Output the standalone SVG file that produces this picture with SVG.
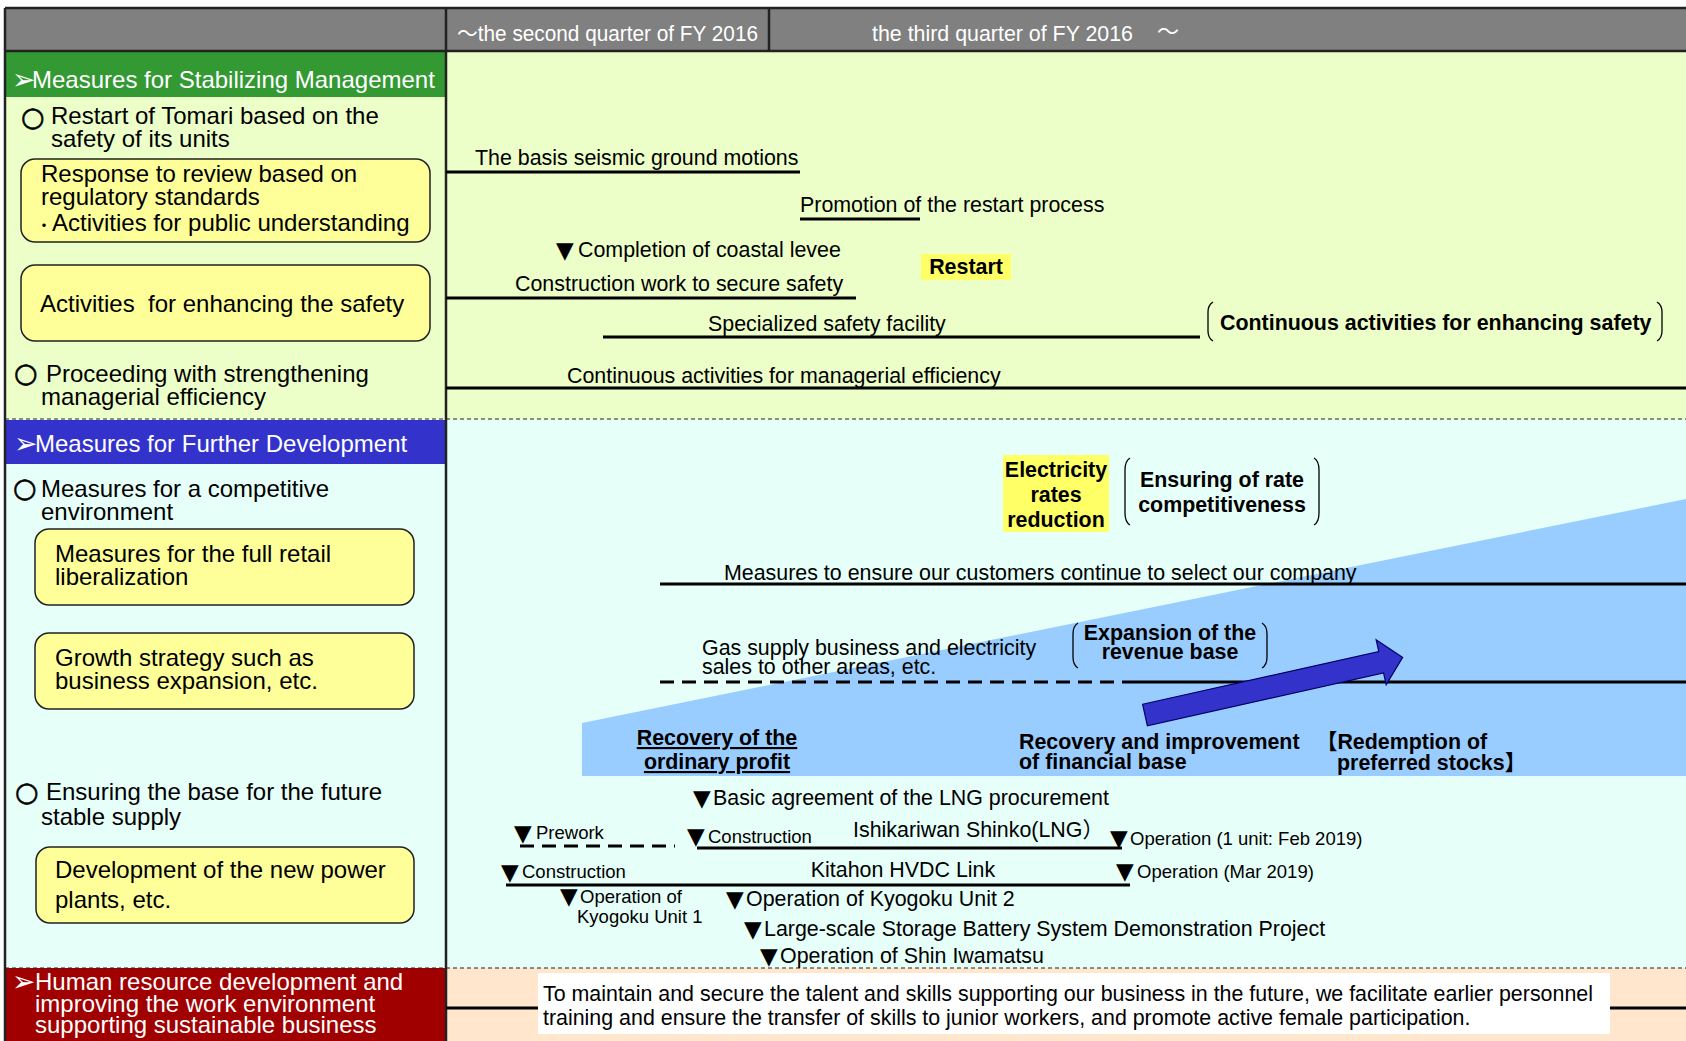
<svg xmlns="http://www.w3.org/2000/svg" width="1686" height="1041" viewBox="0 0 1686 1041">
<style>
text{font-family:'Liberation Sans','Noto Sans CJK JP',sans-serif;fill:#000}
.l{font-size:24px}
.r{font-size:21.4px}
.s{font-size:18.5px}
.b{font-weight:bold}
.w{fill:#fff}
.hd{font-size:22px;fill:#fff}
.ar{font-family:'DejaVu Sans',sans-serif;font-size:28px}
.ci{font-family:'DejaVu Sans',sans-serif;font-size:27px;stroke:#000;stroke-width:0.6}
.tri{font-family:'DejaVu Sans',sans-serif;font-size:23px}
.u{text-decoration:underline}
.ln{stroke:#000;stroke-width:3;fill:none}
.dl{stroke:#000;stroke-width:3;fill:none;stroke-dasharray:14 8}
.sep{stroke:#222;stroke-width:1.2;stroke-dasharray:4 3;fill:none}
.box{fill:#FFFF99;stroke:#222;stroke-width:1.5}
.br{fill:none;stroke:#000;stroke-width:1.3}
.hl{fill:#FFFF66}
.bd{stroke:#222;stroke-width:2.5;fill:none}
</style>
<g id="background">
<rect x="5" y="51" width="1681" height="368" fill="#ECFFC8"/>
<rect x="5" y="419" width="1681" height="549" fill="#E6FFF9"/>
<rect x="446" y="968" width="1240" height="73" fill="#FFE6CC"/>
<rect x="5" y="968" width="441" height="73" fill="#A00000"/>
<rect x="5" y="8" width="1681" height="43" fill="#808080"/>
<rect x="5" y="52" width="441" height="45" fill="#339933"/>
<rect x="5" y="420" width="441" height="44" fill="#3333CC"/>
<polygon points="582,723 1686,499 1686,776 582,776" fill="#99CCFF"/>
<line class="sep" x1="5" y1="419" x2="1686" y2="419"/>
<line class="sep" x1="5" y1="968" x2="1686" y2="968"/>
<line class="bd" x1="5" y1="8" x2="1686" y2="8"/>
<line class="bd" x1="5" y1="51" x2="1686" y2="51"/>
<line class="bd" x1="5" y1="8" x2="5" y2="1041"/>
<line class="bd" x1="446" y1="8" x2="446" y2="1041"/>
<line class="bd" x1="769" y1="8" x2="769" y2="51"/>
</g>
<g id="header">
<text class="hd" x="457" y="41" textLength="301" lengthAdjust="spacingAndGlyphs">～the second quarter of FY 2016</text>
<text class="hd" x="872" y="41" textLength="261" lengthAdjust="spacingAndGlyphs">the third quarter of FY 2016</text>
<text class="hd" x="1157" y="39" font-size="20">～</text>
</g>
<g id="connectors">
<line class="ln" x1="446" y1="172" x2="800" y2="172"/>
<line class="ln" x1="800" y1="219" x2="920" y2="219"/>
<line class="ln" x1="446" y1="298" x2="856" y2="298"/>
<line class="ln" x1="603" y1="337" x2="1200" y2="337"/>
<line class="ln" x1="446" y1="388" x2="1686" y2="388"/>
<line class="ln" x1="660" y1="584" x2="1686" y2="584"/>
<line class="dl" x1="660" y1="682" x2="1130" y2="682"/>
<line class="ln" x1="1130" y1="682" x2="1686" y2="682"/>
<line class="dl" x1="520" y1="846" x2="675" y2="846"/>
<line class="ln" x1="697" y1="848" x2="1122" y2="848"/>
<line class="ln" x1="506" y1="885" x2="1130" y2="885"/>
<line class="ln" x1="446" y1="1008" x2="1686" y2="1008"/>
</g>
<g id="sec-stabilizing">
<text class="l w"><tspan class="ar" x="12" y="89">➢</tspan><tspan x="32" y="88">Measures for Stabilizing Management</tspan></text>
</g>
<g id="item-tomari">
<text class="l"><tspan class="ci" x="21" y="126">○</tspan><tspan x="51" y="124">Restart of Tomari based on the</tspan><tspan x="51" y="147">safety of its units</tspan></text>
</g>
<g id="box-response">
<rect class="box" x="21" y="159" width="409" height="83" rx="14"/>
<text class="l"><tspan x="41" y="182">Response to review based on</tspan><tspan x="41" y="205">regulatory standards</tspan><tspan x="36" y="231" font-size="16">・</tspan><tspan x="52" y="231">Activities for public understanding</tspan></text>
</g>
<g id="box-safety">
<rect class="box" x="21" y="265" width="409" height="76" rx="14"/>
<text class="l" x="40" y="312" xml:space="preserve">Activities  for enhancing the safety</text>
</g>
<g id="item-efficiency">
<text class="l"><tspan class="ci" x="14" y="382">○</tspan><tspan x="46" y="382">Proceeding with strengthening</tspan><tspan x="41" y="405">managerial efficiency</tspan></text>
</g>
<g id="sec-development">
<text class="l w"><tspan class="ar" x="14" y="453">➢</tspan><tspan x="35" y="452">Measures for Further Development</tspan></text>
</g>
<g id="item-competitive">
<text class="l"><tspan class="ci" x="13" y="497">○</tspan><tspan x="41" y="497">Measures for a competitive</tspan><tspan x="41" y="520">environment</tspan></text>
</g>
<g id="box-retail">
<rect class="box" x="35" y="529" width="379" height="76" rx="14"/>
<text class="l"><tspan x="55" y="562">Measures for the full retail</tspan><tspan x="55" y="585">liberalization</tspan></text>
</g>
<g id="box-growth">
<rect class="box" x="35" y="633" width="379" height="76" rx="14"/>
<text class="l"><tspan x="55" y="666">Growth strategy such as</tspan><tspan x="55" y="689">business expansion, etc.</tspan></text>
</g>
<g id="item-supply">
<text class="l"><tspan class="ci" x="15" y="801">○</tspan><tspan x="46" y="800">Ensuring the base for the future</tspan><tspan x="41" y="825">stable supply</tspan></text>
</g>
<g id="box-plants">
<rect class="box" x="36" y="847" width="378" height="76" rx="14"/>
<text class="l"><tspan x="55" y="878">Development of the new power</tspan><tspan x="55" y="908">plants, etc.</tspan></text>
</g>
<g id="sec-human">
<text class="l w"><tspan class="ar" x="12" y="991">➢</tspan><tspan x="35" y="990">Human resource development and</tspan><tspan x="35" y="1012">improving the work environment</tspan><tspan x="35" y="1033">supporting sustainable business</tspan></text>
</g>
<g id="tl-seismic"><text class="r" x="475" y="165">The basis seismic ground motions</text></g>
<g id="tl-promotion"><text class="r" x="800" y="212">Promotion of the restart process</text></g>
<g id="tl-levee"><text class="r"><tspan class="tri" x="556" y="258">▼</tspan><tspan x="578" y="257">Completion of coastal levee</tspan></text></g>
<g id="tl-restart">
<rect class="hl" x="921" y="254" width="90" height="26"/>
<text class="r b" x="966" y="274" text-anchor="middle">Restart</text>
</g>
<g id="tl-construction"><text class="r" x="515" y="291">Construction work to secure safety</text></g>
<g id="tl-facility"><text class="r" x="708" y="331">Specialized safety facility</text></g>
<g id="tl-continuous-safety">
<path class="br" d="M1213,302 Q1208,305 1208,312 L1208,331 Q1208,338 1213,341"/>
<path class="br" d="M1657,302 Q1662,305 1662,312 L1662,331 Q1662,338 1657,341"/>
<text class="r b" x="1220" y="330">Continuous activities for enhancing safety</text>
</g>
<g id="tl-managerial"><text class="r" x="567" y="383">Continuous activities for managerial efficiency</text></g>
<g id="tl-rates">
<rect class="hl" x="1003" y="455" width="106" height="77"/>
<text class="r b" text-anchor="middle"><tspan x="1056" y="477">Electricity</tspan><tspan x="1056" y="502">rates</tspan><tspan x="1056" y="527">reduction</tspan></text>
</g>
<g id="tl-competitiveness">
<path class="br" d="M1130,458 Q1125,461 1125,470 L1125,513 Q1125,522 1130,525"/>
<path class="br" d="M1314,458 Q1319,461 1319,470 L1319,513 Q1319,522 1314,525"/>
<text class="r b" text-anchor="middle"><tspan x="1222" y="487">Ensuring of rate</tspan><tspan x="1222" y="512">competitiveness</tspan></text>
</g>
<g id="tl-customers"><text class="r" x="724" y="580">Measures to ensure our customers continue to select our company</text></g>
<g id="tl-gas"><text class="r"><tspan x="702" y="655">Gas supply business and electricity</tspan><tspan x="702" y="674">sales to other areas, etc.</tspan></text></g>
<g id="tl-revenue">
<path class="br" d="M1078,623 Q1073,626 1073,634 L1073,657 Q1073,665 1078,668"/>
<path class="br" d="M1262,623 Q1267,626 1267,634 L1267,657 Q1267,665 1262,668"/>
<text class="r b" text-anchor="middle"><tspan x="1170" y="640">Expansion of the</tspan><tspan x="1170" y="659">revenue base</tspan></text>
</g>
<g id="big-arrow">
<polygon points="0,-11 242,-11 242,-23 264,0 242,23 242,11 0,11" transform="translate(1145,715) rotate(-12.6)" fill="#3333CC" stroke="#000066" stroke-width="1.2"/>
</g>
<g id="tl-profit"><text class="r b u" text-anchor="middle"><tspan x="717" y="745">Recovery of the</tspan><tspan x="717" y="769">ordinary profit</tspan></text></g>
<g id="tl-financial"><text class="r b"><tspan x="1019" y="749">Recovery and improvement</tspan><tspan x="1019" y="769">of financial base</tspan></text></g>
<g id="tl-redemption"><text class="r b"><tspan x="1316" y="749">【Redemption of</tspan><tspan x="1337" y="770">preferred stocks】</tspan></text></g>
<g id="tl-lng-agreement"><text class="r"><tspan class="tri" x="693" y="806">▼</tspan><tspan x="713" y="805">Basic agreement of the LNG procurement</tspan></text></g>
<g id="tl-prework"><text class="s"><tspan class="tri" x="514" y="841">▼</tspan><tspan x="536" y="839">Prework</tspan></text></g>
<g id="tl-lng-construction"><text class="s"><tspan class="tri" x="687" y="844">▼</tspan><tspan x="708" y="843">Construction</tspan></text></g>
<g id="tl-ishikariwan"><text class="r" x="853" y="837">Ishikariwan Shinko(LNG）</text></g>
<g id="tl-lng-operation"><text class="s"><tspan class="tri" x="1110" y="846">▼</tspan><tspan x="1130" y="845">Operation (1 unit: Feb 2019)</tspan></text></g>
<g id="tl-hvdc-construction"><text class="s"><tspan class="tri" x="501" y="880">▼</tspan><tspan x="522" y="878">Construction</tspan></text></g>
<g id="tl-kitahon"><text class="r" x="903" y="877" text-anchor="middle">Kitahon HVDC Link</text></g>
<g id="tl-hvdc-operation"><text class="s"><tspan class="tri" x="1116" y="879">▼</tspan><tspan x="1137" y="878">Operation (Mar 2019)</tspan></text></g>
<g id="tl-kyogoku1"><text class="s"><tspan class="tri" x="560" y="904">▼</tspan><tspan x="580" y="903">Operation of</tspan><tspan x="577" y="923">Kyogoku Unit 1</tspan></text></g>
<g id="tl-kyogoku2"><text class="r"><tspan class="tri" x="726" y="907">▼</tspan><tspan x="746" y="906">Operation of Kyogoku Unit 2</tspan></text></g>
<g id="tl-battery"><text class="r"><tspan class="tri" x="744" y="937">▼</tspan><tspan x="764" y="936">Large-scale Storage Battery System Demonstration Project</tspan></text></g>
<g id="tl-iwamatsu"><text class="r"><tspan class="tri" x="760" y="964">▼</tspan><tspan x="780" y="963">Operation of Shin Iwamatsu</tspan></text></g>
<g id="tl-human">
<rect x="538" y="973" width="1072" height="61" fill="#fff"/>
<text class="r"><tspan x="543" y="1001">To maintain and secure the talent and skills supporting our business in the future, we facilitate earlier personnel</tspan><tspan x="543" y="1025">training and ensure the transfer of skills to junior workers, and promote active female participation.</tspan></text>
</g>
</svg>
